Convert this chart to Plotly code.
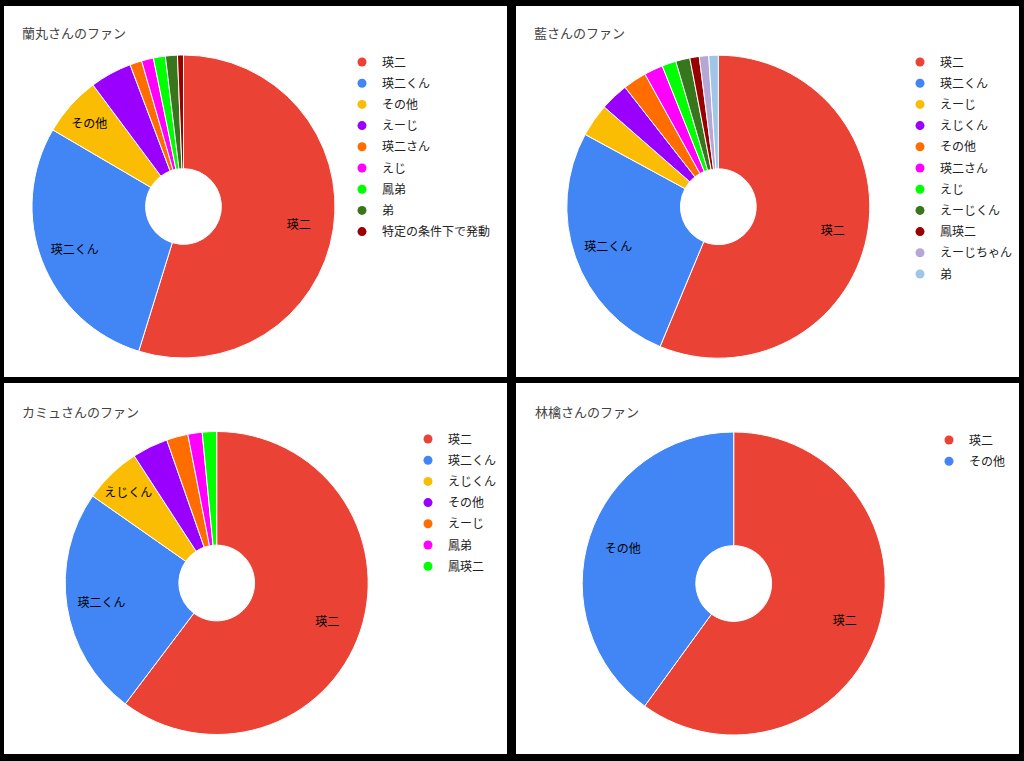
import plotly.graph_objects as go

W, H = 1024, 761
FONT = "Noto Sans CJK JP, Noto Sans, sans-serif"

# ---------------- data ----------------
titles = ["蘭丸さんのファン", "藍さんのファン", "カミュさんのファン", "林檎さんのファン"]

ranmaru_labels = ["瑛二", "瑛二くん", "その他", "えーじ", "瑛二さん", "えじ", "鳳弟", "弟", "特定の条件下で発動"]
ranmaru_values = [86, 45, 10, 7, 2, 2, 2, 2, 1]

ai_labels = ["瑛二", "瑛二くん", "えーじ", "えじくん", "その他", "瑛二さん", "えじ", "えーじくん", "鳳瑛二", "えーじちゃん", "弟"]
ai_values = [112, 53, 7, 6, 5, 4, 3, 3, 2, 2, 2]

camus_labels = ["瑛二", "瑛二くん", "えじくん", "その他", "えーじ", "鳳弟", "鳳瑛二"]
camus_values = [79, 32, 8, 5, 3, 2, 2]

ringo_labels = ["瑛二", "その他"]
ringo_values = [3, 2]

palette = ["#EA4335", "#4285F4", "#FBBC04", "#9900FF", "#FF6D01", "#FF00FF",
           "#00FF00", "#38761D", "#990000", "#B4A7D6", "#9FC5E8"]

# ---------------- layout geometry (pixels) ----------------
panels = [(4, 6, 507, 377), (516, 6, 1019, 377), (4, 383, 507, 754), (516, 383, 1019, 754)]
centers = [(183.5, 206.5), (718.3, 206.7), (216.7, 583.0), (733.7, 583.5)]
RADIUS = 151.5
title_pos = [(20, 33), (532, 33), (20, 411), (533, 411.5)]
legend_pos = [(382, 62), (940, 62), (448, 439), (969, 440)]  # text-left x, first row center y


def px_x(x):
    return x / W


def px_y(y):
    return 1 - y / H


datasets = [(ranmaru_labels, ranmaru_values), (ai_labels, ai_values),
            (camus_labels, camus_values), (ringo_labels, ringo_values)]

fig = go.Figure()
shapes = []
annotations = []
legends = {}

for i, (labels, values) in enumerate(datasets):
    lg = "legend" if i == 0 else f"legend{i + 1}"
    cx, cy = centers[i]
    domain = dict(x=[px_x(cx - RADIUS), px_x(cx + RADIUS)],
                  y=[px_y(cy + RADIUS), px_y(cy - RADIUS)])
    colors = palette[:len(labels)]
    total = sum(values)
    texts = [lab if v / total >= 0.05 else "" for lab, v in zip(labels, values)]

    # donut slices
    fig.add_trace(go.Pie(
        labels=labels, values=values, sort=False, direction="clockwise", rotation=0,
        hole=0.25, domain=domain, textinfo="none", showlegend=False,
        marker=dict(colors=colors, line=dict(color="white", width=1)),
        hoverinfo="label+value+percent",
    ))
    # slice labels (transparent overlay ring places the text further out)
    fig.add_trace(go.Pie(
        labels=labels, values=values, sort=False, direction="clockwise", rotation=0,
        hole=0.54, domain=domain, text=texts, textinfo="text", textposition="inside",
        insidetextorientation="horizontal",
        textfont=dict(size=12, color="#000000", family=FONT),
        marker=dict(colors=["rgba(0,0,0,0)"] * len(labels), line=dict(width=0)),
        showlegend=False, hoverinfo="skip",
    ))
    # legend entries with round markers
    for j, (lab, col) in enumerate(zip(labels, colors)):
        fig.add_trace(go.Scatter(
            x=[None], y=[None], mode="markers", name=lab,
            marker=dict(color=col, size=9, symbol="circle"),
            legend=lg, legendgroup=f"{lg}_{j}", showlegend=True, hoverinfo="skip",
        ))

    x0, y0, x1, y1 = panels[i]
    shapes.append(dict(type="rect", xref="paper", yref="paper",
                       x0=px_x(x0), x1=px_x(x1), y0=px_y(y1), y1=px_y(y0),
                       fillcolor="white", line=dict(width=0), layer="below"))
    tx, ty = title_pos[i]
    annotations.append(dict(text=titles[i], xref="paper", yref="paper",
                            x=px_x(tx), y=px_y(ty), xanchor="left", yanchor="middle",
                            showarrow=False, font=dict(size=13, color="#444444", family=FONT)))
    lx, ly = legend_pos[i]
    legends[lg] = dict(x=px_x(lx - 40), xanchor="left", y=px_y(ly - 14.5), yanchor="top",
                       bgcolor="rgba(0,0,0,0)", borderwidth=0,
                       font=dict(size=12, color="#222222", family=FONT),
                       traceorder="grouped", tracegroupgap=2.2, itemclick=False,
                       itemdoubleclick=False)

fig.update_layout(
    width=W, height=H, autosize=False,
    margin=dict(l=0, r=0, t=0, b=0, pad=0),
    paper_bgcolor="#000000", plot_bgcolor="rgba(0,0,0,0)",
    xaxis=dict(visible=False), yaxis=dict(visible=False),
    shapes=shapes, annotations=annotations,
    uniformtext=dict(minsize=12, mode="show"),
    font=dict(family=FONT),
    **legends,
)

fig.write_html(
    "out.html",
    config={"displayModeBar": False},
    post_script="document.body.style.margin='0';document.body.style.background='#000';",
)
